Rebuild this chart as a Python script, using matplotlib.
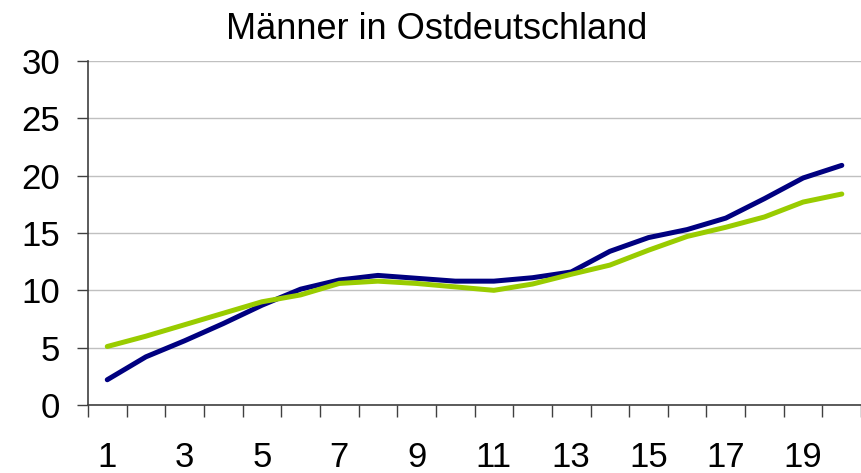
import numpy as np
import matplotlib.pyplot as plt

# -----------------------------
# Data
# -----------------------------
categories = list(range(1, 21))
series_blue = [2.2, 4.2, 5.6, 7.1, 8.7, 10.1, 10.9, 11.3, 11.05, 10.8,
               10.8, 11.1, 11.6, 13.4, 14.6, 15.3, 16.3, 18.0, 19.8, 20.9]
series_green = [5.1, 6.0, 7.0, 8.0, 9.0, 9.6, 10.6, 10.8, 10.6, 10.3,
                10.0, 10.55, 11.4, 12.2, 13.5, 14.7, 15.5, 16.4, 17.7, 18.4]
y_ticks = [0, 5, 10, 15, 20, 25, 30]
x_labels = [str(c) for c in categories if c % 2 == 1]

plt.rcParams['font.family'] = ['Liberation Sans', 'DejaVu Sans']

fig = plt.figure(figsize=(8.62, 4.73), dpi=100)
ax = fig.add_axes([0.102, 0.1438, 0.897, 0.7272])

# -----------------------------
# Lines
# -----------------------------
ax.plot(categories, series_blue, color='#000080', lw=3.6,
        solid_capstyle='round', solid_joinstyle='round', zorder=3)
ax.plot(categories, series_green, color='#99CC00', lw=3.6,
        solid_capstyle='round', solid_joinstyle='round', zorder=3)

# -----------------------------
# Axes styling
# -----------------------------
ax.set_xlim(0.5, 20.5)
ax.set_ylim(0, 30)
ax.set_yticks(y_ticks)
ax.yaxis.grid(True, color='#C0C0C0', lw=1.0)
ax.set_axisbelow(True)

ax.set_xticks([c for c in categories if c % 2 == 1])
ax.set_xticklabels(x_labels)
ax.set_xticks(np.arange(0.5, 21, 1.0), minor=True)
ax.tick_params(axis='x', which='major', length=0, pad=26, labelsize=25)
ax.tick_params(axis='x', which='minor', length=8.5, width=1, color='#404040', direction='out')
ax.tick_params(axis='y', length=8, width=1, color='#404040', pad=12, labelsize=25)

for side in ['top', 'right']:
    ax.spines[side].set_visible(False)
for side in ['left', 'bottom']:
    ax.spines[side].set_color('#404040')
    ax.spines[side].set_linewidth(1.2)

fig.text(0.507, 0.9175, 'Männer in Ostdeutschland', ha='center', va='baseline', fontsize=26)

fig.savefig('out.png', dpi=100)
